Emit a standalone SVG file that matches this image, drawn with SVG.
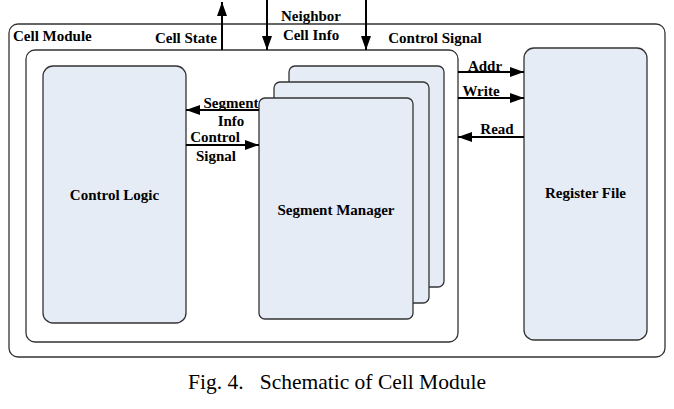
<svg xmlns="http://www.w3.org/2000/svg" width="674" height="409" viewBox="0 0 674 409">
<style>
.box{fill:none;stroke:#333;stroke-width:1.3}
.blk{fill:#e6ecf6;stroke:#333;stroke-width:1.3}
.ln{stroke:#000;stroke-width:2;fill:none}
text{font-family:"Liberation Serif","Times New Roman",serif;font-weight:bold;font-size:15px;fill:#000}
.cap{font-weight:normal;font-size:21.5px}
</style>
<defs>
<marker id="ah" viewBox="0 0 14 10" refX="14" refY="5" markerWidth="14" markerHeight="10" markerUnits="userSpaceOnUse" orient="auto">
<path d="M0,0 L14,5 L0,10 Z" fill="#000"/>
</marker>
</defs>
<rect width="674" height="409" fill="#fff"/>
<g id="cell-module">
<rect class="box" x="9" y="24" width="656" height="333" rx="9"/>
<text x="13" y="41">Cell Module</text>
</g>
<g id="inner">
<rect class="box" x="26" y="50" width="432" height="292" rx="9"/>
</g>
<g id="control-logic">
<rect class="blk" x="43" y="66" width="143" height="257" rx="10"/>
<text x="114.5" y="200" text-anchor="middle">Control Logic</text>
</g>
<g id="segment-manager">
<rect class="blk" x="289" y="66" width="155" height="221" rx="6"/>
<rect class="blk" x="274" y="82" width="155" height="221" rx="6"/>
<rect class="blk" x="259" y="98" width="154" height="221" rx="6"/>
<text x="336" y="215" text-anchor="middle">Segment Manager</text>
</g>
<g id="register-file">
<rect class="blk" x="524" y="48" width="123" height="292" rx="10"/>
<text x="585.5" y="198" text-anchor="middle">Register File</text>
</g>
<g id="connectors">
<line class="ln" x1="222" y1="50" x2="222" y2="2" marker-end="url(#ah)"/>
<line class="ln" x1="267" y1="0" x2="267" y2="50" marker-end="url(#ah)"/>
<line class="ln" x1="366" y1="0" x2="366" y2="50" marker-end="url(#ah)"/>
<line class="ln" x1="259" y1="110" x2="186" y2="110" marker-end="url(#ah)"/>
<line class="ln" x1="186" y1="145" x2="259" y2="145" marker-end="url(#ah)"/>
<line class="ln" x1="458" y1="72" x2="524" y2="72" marker-end="url(#ah)"/>
<line class="ln" x1="458" y1="98" x2="524" y2="98" marker-end="url(#ah)"/>
<line class="ln" x1="524" y1="137" x2="458" y2="137" marker-end="url(#ah)"/>
</g>
<g id="labels">
<text x="217" y="43" text-anchor="end">Cell State</text>
<text x="311" y="21" text-anchor="middle">Neighbor</text>
<text x="311" y="40" text-anchor="middle">Cell Info</text>
<text x="435" y="43" text-anchor="middle">Control Signal</text>
<text x="231" y="108" text-anchor="middle">Segment</text>
<text x="231" y="126" text-anchor="middle">Info</text>
<text x="215" y="142" text-anchor="middle">Control</text>
<text x="216" y="161" text-anchor="middle">Signal</text>
<text x="485" y="71" text-anchor="middle">Addr</text>
<text x="481" y="96" text-anchor="middle">Write</text>
<text x="497" y="134" text-anchor="middle">Read</text>
</g>
<text class="cap" x="337" y="389" text-anchor="middle" xml:space="preserve">Fig. 4.   Schematic of Cell Module</text>
</svg>
